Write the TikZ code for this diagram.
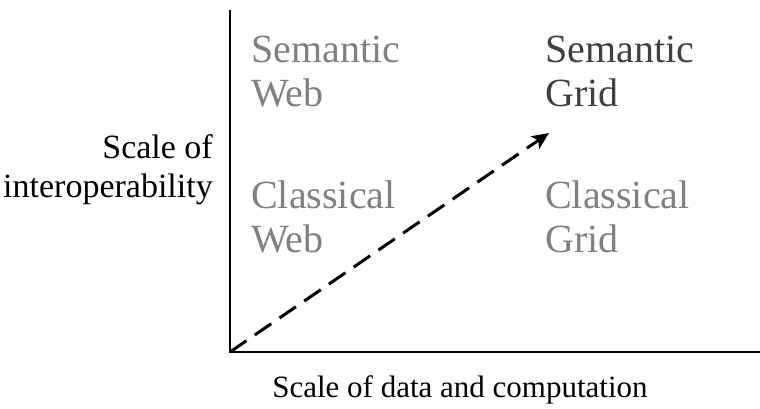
\documentclass[tikz,border=0pt]{standalone}
\usepackage{fontspec}
\setmainfont{Liberation Serif}
\usepackage{tikz}
\usetikzlibrary{positioning,arrows.meta}

\begin{document}
\begin{tikzpicture}[x=1pt,y=-1pt,
  quad/.style={anchor=base west,inner sep=0pt,align=left,font=\fontsize{40}{44}\selectfont},
  axlabel/.style={inner sep=0pt,font=\fontsize{31}{39}\selectfont},
  axis/.style={line width=2.6pt}]
\useasboundingbox (0,0) rectangle (760,408);

\coordinate (O) at (230,352);
\coordinate (Ytop) at (230,10);
\coordinate (Xend) at (760,352);
\coordinate (Tip) at (549,133);

	\node[quad,text=black!50] (SW) at (251,106) {Semantic\\Web};
	\node[quad,text=black!75] (SG) at (545,106) {Semantic\\Grid};
	\node[quad,text=black!50] (CW) at (251,252) {Classical\\Web};
	\node[quad,text=black!50] (CG) at (545,252) {Classical\\Grid};

	\node[axlabel,anchor=base east,align=right,font=\fontsize{34}{39}\selectfont] (YL) at (213,197) {Scale of\\interoperability};
	\node[axlabel,anchor=base] (XL) at (460,397) {Scale of data and computation};

	\draw[axis] (Ytop) -- (O) -- (Xend);
	\draw[line width=3pt,dash pattern=on 20pt off 10pt,-{Stealth[length=17pt,width=15pt,inset=4pt]}] (O) -- (Tip);
\end{tikzpicture}
\end{document}
